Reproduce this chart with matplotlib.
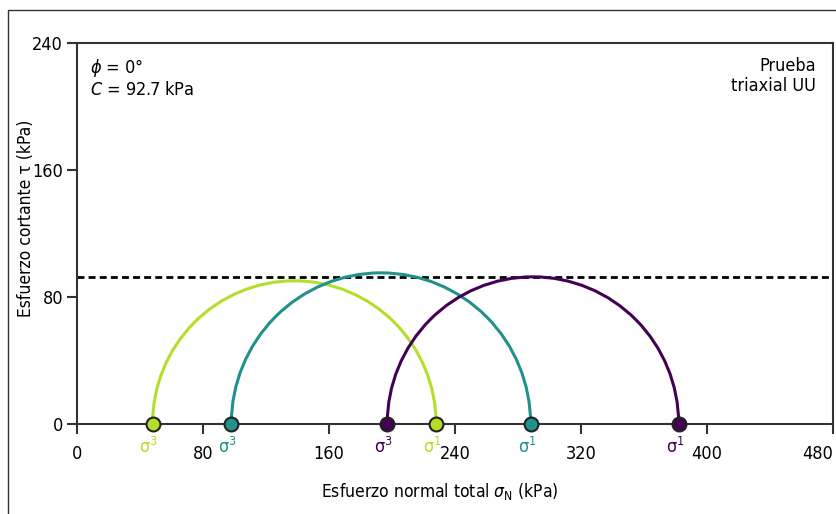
import numpy as np
import matplotlib
matplotlib.use('Agg')
import matplotlib.pyplot as plt
from matplotlib.patches import Arc, Rectangle

plt.rcParams['font.family'] = ['DejaVu Sans']
plt.rcParams['font.stretch'] = 'condensed'

# ensayos triaxiales UU (kPa)
sigma3 = [48, 98, 197]
sigma1 = [228, 288, 382]
colores = ['#b5de2b', '#21918c', '#440154']
cohesion = 92.7

x_ticks = [0, 80, 160, 240, 320, 400, 480]
y_ticks = [0, 80, 160, 240]

fig = plt.figure(figsize=(8.37, 5.14), dpi=100)
ax = fig.add_axes([0.092, 0.1757, 0.9032, 0.7413])

# marco de la figura
fig.patches.append(Rectangle((0.0096, -0.05), 1.2, 1.0305, transform=fig.transFigure,
                             fill=False, edgecolor='#333333', linewidth=1.0))

ax.axhline(cohesion, color='black', linestyle=(0, (2.5, 1.5)), linewidth=2.0, zorder=2)

for s3, s1, c in zip(sigma3, sigma1, colores):
    centro = (s1 + s3) / 2
    radio = (s1 - s3) / 2
    ax.add_patch(Arc((centro, 0), 2 * radio, 2 * radio, theta1=0, theta2=180,
                     color=c, linewidth=2.2, zorder=3))
    ax.plot([s3, s1], [0, 0], 'o', color=c, markersize=10, markeredgecolor='#222222',
            markeredgewidth=1.5, clip_on=False, zorder=5)
    ax.annotate(r'$\mathregular{σ^3}$', (s3, 0), xytext=(4, -21), textcoords='offset points',
                ha='right', va='baseline', color=c, fontsize=13, annotation_clip=False)
    ax.annotate(r'$\mathregular{σ^1}$', (s1, 0), xytext=(4, -21), textcoords='offset points',
                ha='right', va='baseline', color=c, fontsize=13, annotation_clip=False)

ax.set_xlim(0, 480)
ax.set_ylim(0, 240)
ax.set_xticks(x_ticks)
ax.set_yticks(y_ticks)
ax.tick_params(axis='both', labelsize=13, length=7, width=1.5, color='#333333')
ax.tick_params(axis='x', pad=8)
ax.tick_params(axis='y', pad=3)
ax.get_xticklabels()[-1].set_horizontalalignment('right')
for sp in ax.spines.values():
    sp.set_linewidth(1.5)
    sp.set_color('#333333')

ax.set_xlabel(r'Esfuerzo normal total $\sigma_{\mathrm{N}}$ (kPa)', fontsize=12.5)
ax.xaxis.set_label_coords(0.48, -0.15)
ax.set_ylabel('Esfuerzo cortante τ (kPa)', fontsize=12.5)
ax.yaxis.set_label_coords(-0.056, 0.54)

ax.text(0.017, 0.962, r'$\phi$ = 0°' + '\n' + r'$C$ = 92.7 kPa', transform=ax.transAxes,
        ha='left', va='top', fontsize=13, linespacing=1.15)
ax.text(0.978, 0.962, 'Prueba\ntriaxial UU', transform=ax.transAxes,
        ha='right', va='top', fontsize=13, multialignment='right', linespacing=1.15)

plt.savefig('out.png', dpi=100)
